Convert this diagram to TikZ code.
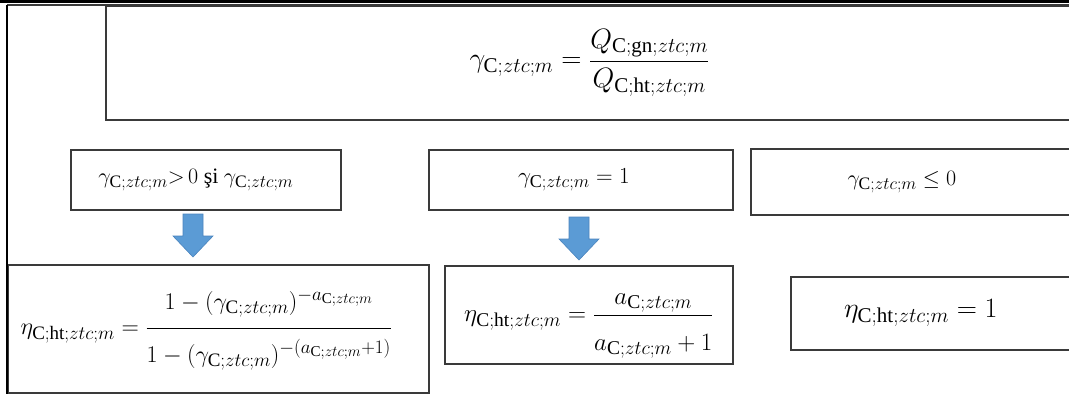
\documentclass[tikz,border=0pt]{standalone}
\usepackage{fix-cm}
\usepackage{amsmath}
\usepackage{fontspec}
\setmainfont{Liberation Serif}
\usetikzlibrary{calc}
\DeclareMathSizes{22}{22}{17.5}{14}
\DeclareMathSizes{23}{23}{18}{14.5}
\DeclareMathSizes{24}{24}{19}{15}
\DeclareMathSizes{25}{25}{19.5}{15.5}
\DeclareMathSizes{28}{28}{21}{17}
\definecolor{boxline}{HTML}{3A3A3A}
\definecolor{arrowblue}{HTML}{5B9BD5}
\definecolor{arrowedge}{HTML}{4A84BE}
\newcommand{\gC}{\gamma_{\mathrm{C};ztc;m}}
\newcommand{\aC}{a_{\mathrm{C};ztc;m}}
\newcommand{\eC}{\eta_{\mathrm{C;ht};ztc;m}}
\begin{document}
\begin{tikzpicture}[x=1pt,y=-1pt,
  box/.style={draw=boxline, line width=1.8pt, inner sep=0pt, anchor=north west},
  sz/.style={font=\fontsize{#1}{#1}\selectfont},
  blockdown/.pic={\filldraw[fill=arrowblue,draw=arrowedge,line width=0.6pt]
     (-10,0) -- (10,0) -- (10,22) -- (20,22) -- (0,43) -- (-20,22) -- (-10,22) -- cycle;}
]
\clip (0,0) rectangle (1069,394);
\fill[white] (0,0) rectangle (1069,394);
% top formula box
\node[box, minimum width=967pt, minimum height=114pt, sz=28] (top) at (105,5)
  {$\gC=\dfrac{Q_{\mathrm{C;gn};ztc;m}}{\rule{0pt}{22pt}Q_{\mathrm{C;ht};ztc;m}}$};
% condition boxes
\node[box, minimum width=270pt, minimum height=60pt, sz=22] (c1) at (70,149)
  {$\gC{>}\,0$ şi $\gC$\hspace*{20pt}};
\node[box, minimum width=304pt, minimum height=60pt, sz=23] (c2) at (428,149)
  {$\gC=1$\hspace*{14pt}};
\node[box, minimum width=322pt, minimum height=66pt, sz=22] (c3) at (750,148)
  {$\gC\le 0$\hspace*{20pt}};
% result boxes
\node[box, minimum width=421pt, minimum height=128pt, sz=24] (b1) at (7,264)
  {$\rule[-44pt]{0pt}{100pt}\eC=\dfrac{\rule[-16pt]{0pt}{16pt}1-(\gC)^{-\aC}}{\rule{0pt}{30pt}1-(\gC)^{-(\aC+1)}}$\hspace*{24pt}};
\node[box, minimum width=288pt, minimum height=98pt, sz=25] (b2) at (444,265)
  {$\rule[-33.5pt]{0pt}{84pt}\eC=\dfrac{\aC}{\rule{0pt}{31pt}\aC+1}$};
\node[box, minimum width=282pt, minimum height=73pt, sz=28] (b3) at (790,276)
  {$\eC=1$\hspace*{22pt}};
% block arrows
\pic at (193,214) {blockdown};
\pic at (579,217) {blockdown};
% outer frame
\draw[black, line width=3pt] (0,1.3) -- (1069,1.3);
\draw[boxline, line width=1.5pt] (7,5) -- (1069,5);
\draw[black, line width=1.5pt] (7,5) -- (7,394);
\end{tikzpicture}
\end{document}
